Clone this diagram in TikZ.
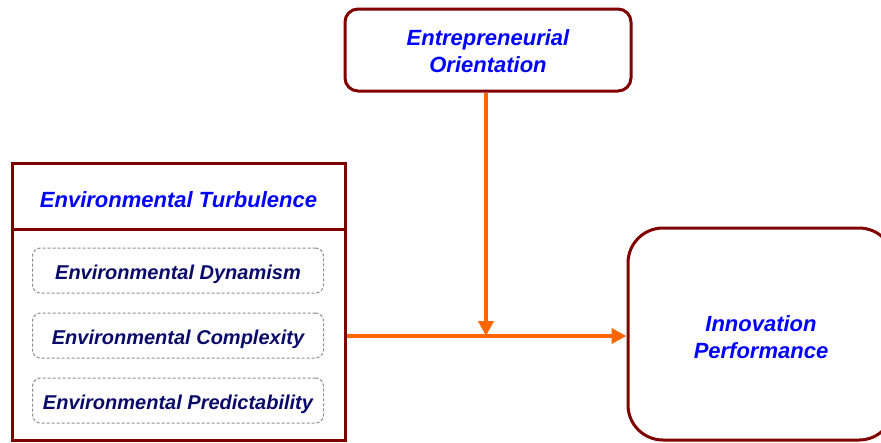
\documentclass[tikz,border=0pt]{standalone}
\usepackage{fontspec}
\setmainfont{Liberation Sans}
\usetikzlibrary{arrows.meta}
\definecolor{boxred}{HTML}{800000}
\definecolor{titleblue}{HTML}{0000FF}
\definecolor{subnavy}{HTML}{0A0A6A}
\definecolor{arroworange}{HTML}{FF6600}
\definecolor{dashgray}{HTML}{8C8C8C}
\tikzset{
  mainbox/.style={draw=boxred, line width=3pt, fill=white, inner sep=0pt, align=center,
    font=\fontsize{22}{27}\selectfont\bfseries\itshape, text=titleblue},
  subbox/.style={draw=dashgray, line width=1pt, dash pattern=on 3pt off 2pt, rounded corners=8pt,
    inner sep=0pt, minimum width=291pt, minimum height=45pt, text height=17.4pt, text depth=0pt,
    font=\fontsize{20}{24}\selectfont\bfseries\itshape, text=subnavy},
  flow/.style={draw=arroworange, line width=4pt, -{Triangle[length=15pt,width=15pt]}},
}
\begin{document}
\begin{tikzpicture}[x=1pt,y=-1pt]
\useasboundingbox (0,0) rectangle (881,442);
\node[mainbox, rounded corners=13pt, minimum width=286pt, minimum height=82pt, text height=44.8pt, text depth=0pt] (eo) at (488,50)
  {Entrepreneurial\\Orientation};
\node[mainbox, minimum width=333pt, minimum height=277pt] (et) at (178.5,301.5) {};
\node[mainbox, minimum width=333pt, minimum height=66pt, text height=23.6pt, text depth=0pt] (ettitle) at (178.5,196)
  {Environmental Turbulence};
\node[subbox] (dyn) at (178,270.5) {Environmental Dynamism};
\node[subbox] (com) at (178,335.5) {Environmental Complexity};
\node[subbox] (pre) at (178,400.5) {Environmental Predictability};
\node[mainbox, rounded corners=35pt, minimum width=266pt, minimum height=212pt, text height=48.8pt, text depth=0pt] (ip) at (761,334)
  {Innovation\\Performance};
\coordinate (j) at (486,336);
\draw[flow] (eo.south -| j) -- (j);
\draw[flow] (et.east |- j) -- (ip.west |- j);
\end{tikzpicture}
\end{document}
